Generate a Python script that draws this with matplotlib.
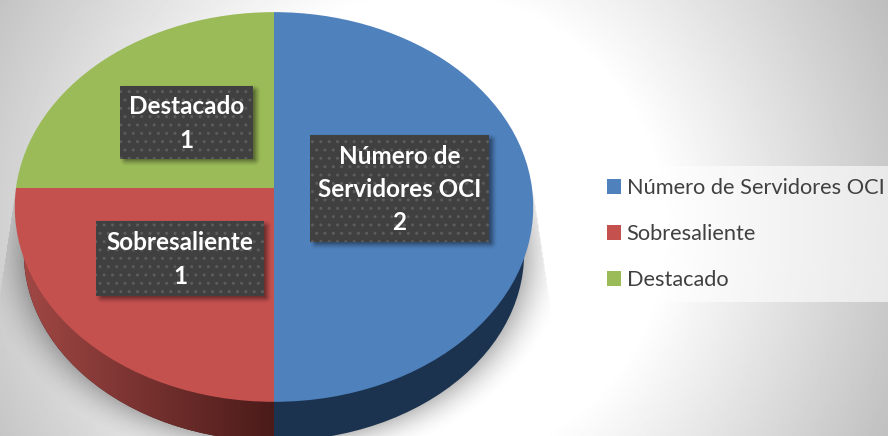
import matplotlib
matplotlib.use('Agg')
import matplotlib.pyplot as plt
import numpy as np
from matplotlib.colors import to_rgb
from matplotlib.patches import Rectangle
from matplotlib.transforms import Affine2D, Transform

W, H = 888, 436

# data
categories = ['Número de Servidores OCI', 'Sobresaliente', 'Destacado']
values = [2, 1, 1]
box_text = ['Número de\nServidores OCI', 'Sobresaliente', 'Destacado']

colors = ['#4f81bd', '#c5514f', '#9bbb59']
side_colors = ['#1c3350', '#4a1b19', '#4c5e2c']

# label boxes in pixels: x0, y0, x1, y1
boxes = [(310, 135, 489, 242), (96, 221, 264, 296), (120, 86, 253, 159)]

plt.rcParams['font.family'] = ['Lato', 'DejaVu Sans']
plt.rcParams['hatch.color'] = '#5c5c5c'


class TiltedPie(Transform):
    """unit pie -> screen pixels, seen in perspective"""
    input_dims = 2
    output_dims = 2

    def __init__(self, cx=274, cy=188, a=258, b=193, k=0.0974):
        super().__init__()
        self.cx, self.cy, self.a, self.b, self.k = cx, cy, a, b, k

    def transform_non_affine(self, xy):
        xy = np.asarray(xy, dtype=float)
        v = -xy[:, 1]
        w = 1 - self.k * v
        return np.column_stack([self.cx + self.a * xy[:, 0] / w,
                                self.cy + self.b * v / w])


fig = plt.figure(figsize=(W / 100, H / 100), dpi=100)
ax = fig.add_axes([0, 0, 1, 1])

yy, xx = np.mgrid[0:H, 0:W] + 0.5

# background, white in the middle and grey towards the corners
dist = np.hypot(xx - 430, yy - 230)
bg = np.clip(255 - 0.235 * np.clip(dist - 233, 0, None), 0, 255) / 255
ax.imshow(bg, cmap='gray', vmin=0, vmax=1, extent=(0, W, H, 0), aspect='auto', zorder=0)

# soft shadow under the pie
r = np.hypot((xx - 274) / 250, (yy - 253) / 186)
shadow = np.clip(1 - (r - 1) * 250 / 45, 0, 1) ** 2 * 0.27
shadow[np.abs(xx - 274) > 259 + (yy - 195) * 0.15] = 0
shadow[yy < 195] = 0
rgba = np.zeros((H, W, 4))
rgba[..., 3] = shadow
ax.imshow(rgba, extent=(0, W, H, 0), aspect='auto', zorder=1)

tilt = TiltedPie()
side_tf = tilt + Affine2D().translate(-274, -207).scale(0.965).translate(274, 253)

# side of the pie, then the top face
side, _ = ax.pie(values, colors=side_colors, startangle=90, counterclock=False,
                 wedgeprops={'zorder': 2, 'linewidth': 0})
for w in side:
    w.set_transform(side_tf + ax.transData)

# the red side gets darker towards the front
c0, c1 = np.array(to_rgb('#a24845')), np.array(to_rgb('#4a1b19'))
t = np.clip((xx - 20) / 254, 0, 1)[..., None]
red_side = ax.imshow(c0 * (1 - t) + c1 * t, extent=(0, W, H, 0), aspect='auto', zorder=2.5)
red_side.set_clip_path(side[1])

wedges, _ = ax.pie(values, colors=colors, startangle=90, counterclock=False,
                   wedgeprops={'zorder': 3, 'linewidth': 0})
for w in wedges:
    w.set_transform(tilt + ax.transData)

# label boxes with their shadows
box_shadow = np.zeros((H, W))
for x0, y0, x1, y1 in boxes:
    dx = np.maximum(np.maximum(x0 + 6 - xx, xx - x1 - 1), 0)
    dy = np.maximum(np.maximum(y0 + 6 - yy, yy - y1 - 1), 0)
    box_shadow = np.maximum(box_shadow, np.clip(1 - np.hypot(dx, dy) / 7, 0, 1) ** 1.5 * 0.42)
rgba = np.zeros((H, W, 4))
rgba[..., 3] = box_shadow
ax.imshow(rgba, extent=(0, W, H, 0), aspect='auto', zorder=4)

for (x0, y0, x1, y1), text, val in zip(boxes, box_text, values):
    ax.add_patch(Rectangle((x0, y0), x1 - x0, y1 - y0, facecolor='#404040',
                           edgecolor='#5c5c5c', hatch='..', linewidth=0, zorder=5))
    ax.text((x0 + x1) / 2, (y0 + y1) / 2 + 1, f'{text}\n{val}', color='white', fontsize=17.5,
            fontweight='bold', ha='center', va='center', linespacing=1.55, zorder=6)

leg = ax.legend(wedges, categories, loc='upper left', bbox_to_anchor=(595, 166),
                bbox_transform=ax.transData, fontsize=15.7, frameon=True, fancybox=False,
                facecolor='white', edgecolor='none', framealpha=0.6, borderaxespad=0,
                handlelength=0.65, handleheight=0.65, handletextpad=0.25,
                labelspacing=1.2, borderpad=0.55, labelcolor='#404040')
leg.set_zorder(7)

ax.set_xlim(0, W)
ax.set_ylim(H, 0)
ax.axis('off')

fig.savefig('out.png', dpi=100)
